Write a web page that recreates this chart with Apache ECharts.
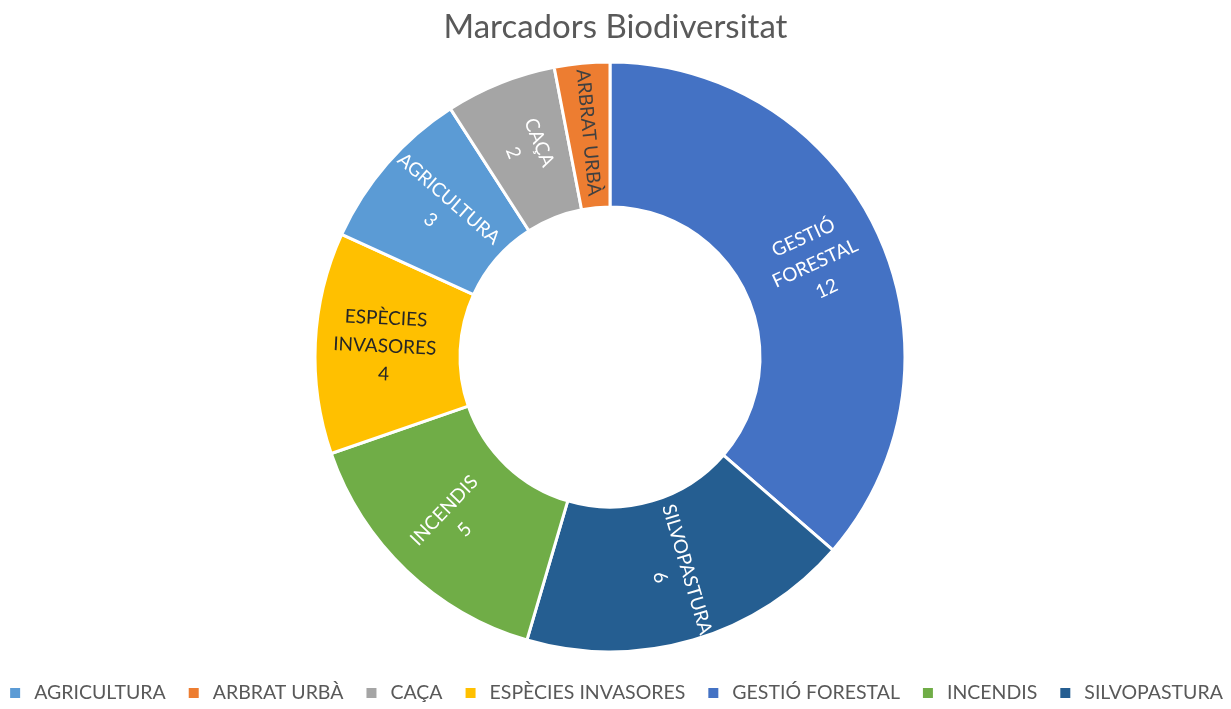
<!DOCTYPE html>
<html>
<head>
<meta charset="utf-8">
<script src="https://cdn.jsdelivr.net/npm/echarts@6/dist/echarts.min.js"></script>
<style>
html,body{margin:0;padding:0;background:#fff;}
#chart{width:1231px;height:709px;}
</style>
</head>
<body>
<div id="chart"></div>
<script>
const title = 'Marcadors Biodiversitat';
const categories = ['GESTIÓ FORESTAL', 'SILVOPASTURA', 'INCENDIS', 'ESPÈCIES INVASORES', 'AGRICULTURA', 'CAÇA', 'ARBRAT URBÀ'];
const values = [12, 6, 5, 4, 3, 2, 1];
const labelTexts = ['GESTIÓ\nFORESTAL\n12', 'SILVOPASTURA\n6', 'INCENDIS\n5', 'ESPÈCIES\nINVASORES\n4', 'AGRICULTURA\n3', 'CAÇA\n2', 'ARBRAT URBÀ'];
const colors = ['#4472C4', '#255E91', '#70AD47', '#FFC000', '#5B9BD5', '#A5A5A5', '#ED7D31'];
const labelColors = ['#ffffff', '#ffffff', '#ffffff', '#262626', '#ffffff', '#ffffff', '#404040'];
const legendOrder = ['AGRICULTURA', 'ARBRAT URBÀ', 'CAÇA', 'ESPÈCIES INVASORES', 'GESTIÓ FORESTAL', 'INCENDIS', 'SILVOPASTURA'];

const font = 'Lato, "Open Sans", sans-serif';
const chart = echarts.init(document.getElementById('chart'));
chart.setOption({
  animation: false,
  title: {
    text: title, left: 'center', top: 6,
    textStyle: { fontFamily: font, fontWeight: 'normal', fontSize: 33, color: '#595959' }
  },
  legend: {
    data: legendOrder, bottom: 1, left: 'center',
    icon: 'rect', itemWidth: 12, itemHeight: 12, itemGap: 21,
    textStyle: { fontFamily: font, fontSize: 19.5, color: '#595959', padding: [0, 0, 0, 8] }
  },
  series: [{
    type: 'pie',
    center: [610, 357],
    radius: [150, 295],
    startAngle: 90,
    clockwise: true,
    itemStyle: { borderColor: '#ffffff', borderWidth: 3 },
    label: {
      show: true, position: 'inside', rotate: 'radial',
      fontFamily: font, fontSize: 19, lineHeight: 28,
      formatter: p => labelTexts[p.dataIndex]
    },
    labelLine: { show: false },
    emphasis: { disabled: true },
    data: categories.map((c, i) => ({
      name: c, value: values[i],
      itemStyle: { color: colors[i] },
      label: { color: labelColors[i] }
    }))
  }]
});
</script>
</body>
</html>
